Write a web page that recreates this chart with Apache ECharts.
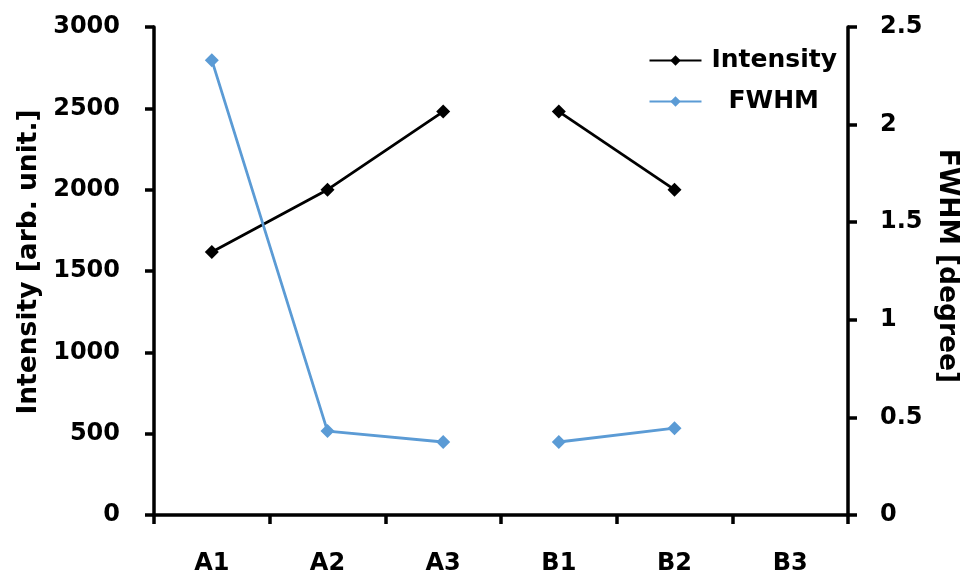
<!DOCTYPE html>
<html>
<head>
<meta charset="utf-8">
<script src="https://cdn.jsdelivr.net/npm/echarts@6/dist/echarts.min.js"></script>
<style>
  html, body { margin: 0; padding: 0; background: #ffffff; }
  #chart { width: 970px; height: 580px; }
</style>
</head>
<body>
<div id="chart"></div>
<script>
// Sample labels along the x axis and the sample group each belongs to
const categories = ['A1', 'A2', 'A3', 'B1', 'B2', 'B3'];
const groups = ['A', 'A', 'A', 'B', 'B', 'B'];

// Peak intensity (arb. unit.) and FWHM (degree) per sample; B3 has no measurement
const intensity = [1617, 2000, 2480, 2480, 2000, null];
const fwhm = [2.33, 0.43, 0.374, 0.374, 0.445, null];

// Axis ranges and steps
const intensityAxis = { min: 0, max: 3000, interval: 500 };
const fwhmAxis = { min: 0, max: 2.5, interval: 0.5 };

const FONT = '"DejaVu Sans", sans-serif';
const BLUE = '#5b9bd5';
const BLACK = '#000000';

// Each group is drawn as its own segment so the line breaks between groups
const groupNames = [...new Set(groups)];
function segments(values, name, color, yAxisIndex) {
  return groupNames.map(g => ({
    name: name,
    type: 'line',
    yAxisIndex: yAxisIndex,
    data: values.map((v, i) => (groups[i] === g ? v : null)),
    symbol: 'diamond',
    symbolSize: 14,
    lineStyle: { color: color, width: 2.8 },
    itemStyle: { color: color },
    connectNulls: false,
    animation: false
  }));
}

const axisLine = { show: true, lineStyle: { color: '#000', width: 3.5 } };
const axisTick = { show: true, inside: false, length: 9, lineStyle: { color: '#000', width: 3.5 } };
const labelStyle = { color: '#000', fontFamily: FONT, fontWeight: 'bold', fontSize: 24 };
const nameStyle = { color: '#000', fontFamily: FONT, fontWeight: 'bold', fontSize: 26.5 };
const legendText = { color: '#000', fontFamily: FONT, fontWeight: 'bold', fontSize: 25 };

const chart = echarts.init(document.getElementById('chart'), null, { renderer: 'canvas' });
chart.setOption({
  backgroundColor: '#ffffff',
  animation: false,
  grid: { left: 154, right: 122, top: 27, bottom: 65, containLabel: false },
  legend: {
    orient: 'vertical',
    right: 128,
    top: 43,
    itemWidth: 52,
    itemHeight: 13,
    itemGap: 16,
    data: ['Intensity', 'FWHM'],
    formatter: name => (name === 'FWHM' ? '{p|' + name + '}' : '{a|' + name + '}'),
    textStyle: Object.assign({
      rich: {
        a: Object.assign({ padding: [0, 0, 0, 5] }, legendText),
        p: Object.assign({ padding: [0, 0, 0, 22] }, legendText)
      }
    }, legendText)
  },
  xAxis: {
    type: 'category',
    data: categories,
    boundaryGap: true,
    axisLine: axisLine,
    axisTick: axisTick,
    axisLabel: Object.assign({ margin: 37 }, labelStyle),
    splitLine: { show: false }
  },
  yAxis: [
    {
      type: 'value',
      min: intensityAxis.min, max: intensityAxis.max, interval: intensityAxis.interval,
      name: 'Intensity [arb. unit.]',
      nameLocation: 'middle',
      nameRotate: 90,
      nameGap: 111,
      nameTextStyle: Object.assign({ padding: [0, 0, 0, 18] }, nameStyle),
      axisLine: axisLine,
      axisTick: axisTick,
      axisLabel: Object.assign({ margin: 34, formatter: v => String(v) }, labelStyle),
      splitLine: { show: false }
    },
    {
      type: 'value',
      position: 'right',
      min: fwhmAxis.min, max: fwhmAxis.max, interval: fwhmAxis.interval,
      name: 'FWHM [degree]',
      nameLocation: 'middle',
      nameRotate: -90,
      nameGap: 84,
      nameTextStyle: Object.assign({ padding: [0, 10, 0, 0] }, nameStyle),
      axisLine: axisLine,
      axisTick: axisTick,
      axisLabel: Object.assign({ margin: 32, formatter: v => String(v) }, labelStyle),
      splitLine: { show: false }
    }
  ],
  series: [
    ...segments(intensity, 'Intensity', BLACK, 0),
    ...segments(fwhm, 'FWHM', BLUE, 1)
  ]
});
</script>
</body>
</html>
